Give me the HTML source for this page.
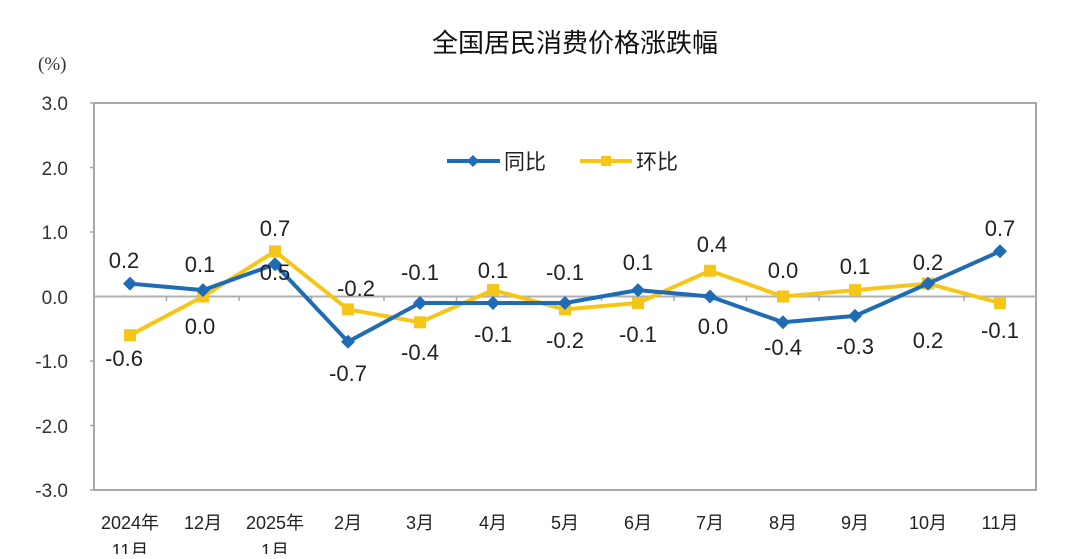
<!DOCTYPE html>
<html><head><meta charset="utf-8"><style>
html,body{margin:0;padding:0;background:#fff;}
svg text{font-family:"Liberation Sans","Noto Sans CJK SC",sans-serif;}
</style></head><body>
<svg width="1080" height="554" viewBox="0 0 1080 554" xmlns="http://www.w3.org/2000/svg">
<text x="575" y="52" font-size="26" text-anchor="middle" fill="#111" style="font-family:'Noto Sans CJK SC',sans-serif">全国居民消费价格涨跌幅</text>
<text x="38" y="70" font-size="19" fill="#333" style="font-family:'Liberation Serif',serif">(%)</text>
<g font-size="19" fill="#333" text-anchor="end" style="font-family:'Liberation Serif',serif">
<text x="68" y="110">3.0</text><text x="68" y="175">2.0</text><text x="68" y="239">1.0</text>
<text x="68" y="304">0.0</text><text x="68" y="368">-1.0</text><text x="68" y="433">-2.0</text><text x="68" y="497">-3.0</text>
</g>
<rect x="94" y="103" width="942" height="387" fill="#fff" stroke="#a8a8a8" stroke-width="2"/>
<line x1="94" y1="296.5" x2="1036" y2="296.5" stroke="#b0b0b0" stroke-width="2"/>
<g stroke="#a8a8a8" stroke-width="1.5">
<line x1="90" y1="103" x2="94" y2="103"/><line x1="90" y1="167.5" x2="94" y2="167.5"/><line x1="90" y1="232" x2="94" y2="232"/><line x1="90" y1="361" x2="94" y2="361"/><line x1="90" y1="425.5" x2="94" y2="425.5"/><line x1="90" y1="490" x2="94" y2="490"/>
<line x1="166.5" y1="296" x2="166.5" y2="301"/><line x1="239" y1="296" x2="239" y2="301"/><line x1="311.5" y1="296" x2="311.5" y2="301"/><line x1="384" y1="296" x2="384" y2="301"/><line x1="456.5" y1="296" x2="456.5" y2="301"/><line x1="529" y1="296" x2="529" y2="301"/><line x1="601.5" y1="296" x2="601.5" y2="301"/><line x1="674" y1="296" x2="674" y2="301"/><line x1="746.5" y1="296" x2="746.5" y2="301"/><line x1="819" y1="296" x2="819" y2="301"/><line x1="891.5" y1="296" x2="891.5" y2="301"/><line x1="964" y1="296" x2="964" y2="301"/>
</g>
<!-- 环比 -->
<polyline fill="none" stroke="#f5c518" stroke-width="4" stroke-linejoin="round" points="130,335.2 203,296.5 275,251.3 348,309.4 420,322.3 493,290.1 565,309.4 638,303 710,270.7 783,296.5 855,290.1 928,283.6 1000,303"/>
<g fill="#f5c518">
<rect x="124" y="329.2" width="12" height="12"/><rect x="197" y="290.5" width="12" height="12"/><rect x="269" y="245.3" width="12" height="12"/><rect x="342" y="303.4" width="12" height="12"/><rect x="414" y="316.3" width="12" height="12"/><rect x="487" y="284.1" width="12" height="12"/><rect x="559" y="303.4" width="12" height="12"/><rect x="632" y="297" width="12" height="12"/><rect x="704" y="264.7" width="12" height="12"/><rect x="777" y="290.5" width="12" height="12"/><rect x="849" y="284.1" width="12" height="12"/><rect x="922" y="277.6" width="12" height="12"/><rect x="994" y="297" width="12" height="12"/>
</g>
<!-- 同比 -->
<polyline fill="none" stroke="#1f6cb5" stroke-width="4" stroke-linejoin="round" points="130,283.6 203,290.1 275,264.3 348,341.7 420,303 493,303 565,303 638,290.1 710,296.5 783,322.3 855,315.9 928,283.6 1000,251.3"/>
<g fill="#1f6cb5">
<path d="M130,276.6l7,7l-7,7l-7,-7z"/><path d="M203,283.1l7,7l-7,7l-7,-7z"/><path d="M275,257.3l7,7l-7,7l-7,-7z"/><path d="M348,334.7l7,7l-7,7l-7,-7z"/><path d="M420,296l7,7l-7,7l-7,-7z"/><path d="M493,296l7,7l-7,7l-7,-7z"/><path d="M565,296l7,7l-7,7l-7,-7z"/><path d="M638,283.1l7,7l-7,7l-7,-7z"/><path d="M710,289.5l7,7l-7,7l-7,-7z"/><path d="M783,315.3l7,7l-7,7l-7,-7z"/><path d="M855,308.9l7,7l-7,7l-7,-7z"/><path d="M928,276.6l7,7l-7,7l-7,-7z"/><path d="M1000,244.3l7,7l-7,7l-7,-7z"/>
</g>
<!-- legend -->
<line x1="447" y1="161" x2="500" y2="161" stroke="#1f6cb5" stroke-width="4"/>
<path d="M473,155l6,6l-6,6l-6,-6z" fill="#1f6cb5"/>
<text x="504" y="169" font-size="21" fill="#222">同比</text>
<line x1="580" y1="161" x2="632" y2="161" stroke="#f5c518" stroke-width="4"/>
<rect x="601" y="156" width="10" height="10" fill="#f5c518"/>
<text x="636" y="169" font-size="21" fill="#222">环比</text>
<!-- data labels -->
<g font-size="22" fill="#222" text-anchor="middle">
<text x="124" y="268">0.2</text><text x="200" y="272">0.1</text><text x="275" y="280">0.5</text><text x="348" y="381">-0.7</text>
<text x="420" y="280">-0.1</text><text x="493" y="342">-0.1</text><text x="565" y="280">-0.1</text><text x="638" y="270">0.1</text>
<text x="713" y="334">0.0</text><text x="783" y="355">-0.4</text><text x="855" y="354">-0.3</text><text x="928" y="270">0.2</text><text x="1000" y="236">0.7</text>
<text x="124" y="366">-0.6</text><text x="200" y="334">0.0</text><text x="275" y="236">0.7</text><text x="356" y="296">-0.2</text>
<text x="420" y="360">-0.4</text><text x="493" y="278">0.1</text><text x="565" y="348">-0.2</text><text x="638" y="342">-0.1</text>
<text x="712" y="252">0.4</text><text x="783" y="278">0.0</text><text x="855" y="274">0.1</text><text x="928" y="348">0.2</text><text x="1000" y="338">-0.1</text>
</g>
<!-- x labels -->
<g font-size="18" fill="#222" text-anchor="middle" style="font-family:'Liberation Mono','Noto Sans CJK SC',monospace">
<text x="130" y="529">2024年</text><text x="130" y="557">11月</text>
<text x="203" y="529">12月</text>
<text x="275" y="529">2025年</text><text x="275" y="557">1月</text>
<text x="348" y="529">2月</text><text x="420" y="529">3月</text><text x="493" y="529">4月</text><text x="565" y="529">5月</text>
<text x="638" y="529">6月</text><text x="710" y="529">7月</text><text x="783" y="529">8月</text><text x="855" y="529">9月</text>
<text x="928" y="529">10月</text><text x="1000" y="529">11月</text>
</g>
</svg>
</body></html>
